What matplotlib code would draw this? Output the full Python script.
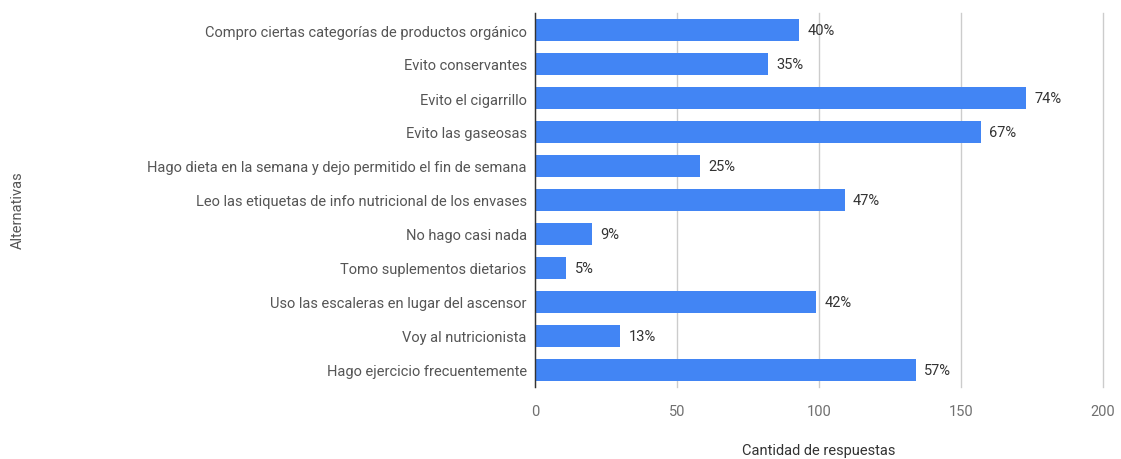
import matplotlib
matplotlib.use("Agg")
import matplotlib.pyplot as plt

categories = [
    "Compro ciertas categorías de productos orgánico",
    "Evito conservantes",
    "Evito el cigarrillo",
    "Evito las gaseosas",
    "Hago dieta en la semana y dejo permitido el fin de semana",
    "Leo las etiquetas de info nutricional de los envases",
    "No hago casi nada",
    "Tomo suplementos dietarios",
    "Uso las escaleras en lugar del ascensor",
    "Voy al nutricionista",
    "Hago ejercicio frecuentemente",
]
values = [93, 82, 173, 157, 58, 109, 20, 11, 99, 30, 134]
pct_labels = ["40%", "35%", "74%", "67%", "25%", "47%", "9%", "5%", "42%", "13%", "57%"]
xticks = [0, 50, 100, 150, 200]

plt.rcParams['font.family'] = ['Roboto', 'DejaVu Sans']

fig = plt.figure(figsize=(11.21, 4.60), dpi=100)
ax = fig.add_axes([535/1121, 1-388/460, (1103-535)/1121, (388-14)/460])

ypos = list(range(len(categories)))
ax.barh(ypos, values, height=0.63, color="#4285F4", zorder=3)
for y, v, lab in zip(ypos, values, pct_labels):
    ax.annotate(lab, (v, y), xytext=(6, 0), textcoords="offset points",
                va="center", ha="left", fontsize=10.5, color="#333333", zorder=4)

ax.set_ylim(len(categories) - 0.5, -0.5)
ax.set_xlim(0, 200)
ax.set_xticks(xticks)
ax.set_xticklabels([str(t) for t in xticks], color="#707070", fontsize=10.5)
ax.set_yticks(ypos)
ax.set_yticklabels(categories, color="#555555", fontsize=10.5)
ax.tick_params(axis="both", length=0)
ax.tick_params(axis="x", pad=12)
ax.tick_params(axis="y", pad=6)
ax.grid(axis="x", color="#cccccc", linewidth=1, zorder=0)
for gl in ax.get_xgridlines():
    gl.set_clip_on(False)
for s in ["top", "right", "bottom"]:
    ax.spines[s].set_visible(False)
ax.spines["left"].set_color("#333333")
ax.spines["left"].set_linewidth(1)
ax.spines["left"].set_zorder(5)

ax.set_xlabel("Cantidad de respuestas", fontsize=10.5, color="#333333", labelpad=18)
fig.text(18/1121, 1-210/460, "Alternativas", rotation=90, ha="center", va="center",
         fontsize=10.5, color="#555555")

fig.savefig("out.png", dpi=100)
